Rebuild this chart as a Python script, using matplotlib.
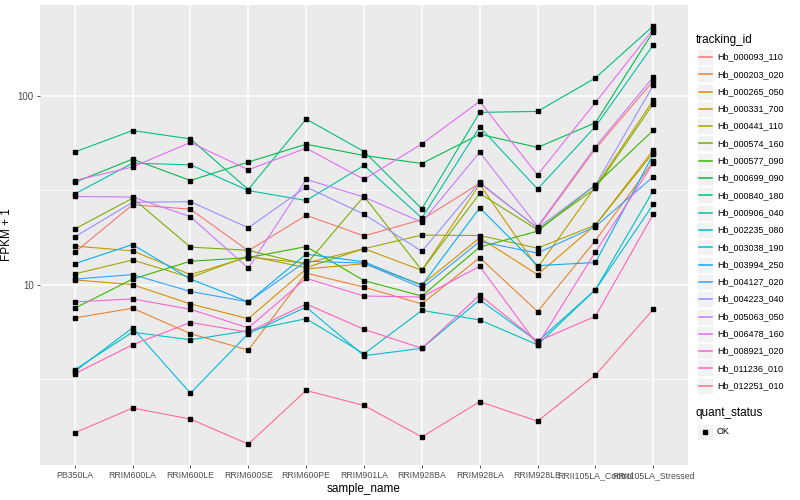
import matplotlib
matplotlib.use('Agg')
import matplotlib.pyplot as plt
from matplotlib.patches import Rectangle
from matplotlib.lines import Line2D
import numpy as np

plt.rcParams['font.family'] = ['Liberation Sans', 'DejaVu Sans']

# samples on the x axis
samples = ['PB350LA', 'RRIM600LA', 'RRIM600LE', 'RRIM600SE', 'RRIM600PE', 'RRIM901LA',
           'RRIM928BA', 'RRIM928LA', 'RRIM928LE', 'RRII105LA_Control', 'RRII105LA_Stressed']

# tracking ids (legend order)
tracking_ids = ['Hb_000093_110', 'Hb_000203_020', 'Hb_000265_050', 'Hb_000331_700',
                'Hb_000441_110', 'Hb_000574_160', 'Hb_000577_090', 'Hb_000699_090',
                'Hb_000840_180', 'Hb_000906_040', 'Hb_002235_080', 'Hb_003038_190',
                'Hb_003994_250', 'Hb_004127_020', 'Hb_004223_040', 'Hb_005063_050',
                'Hb_006478_160', 'Hb_008921_020', 'Hb_011236_010', 'Hb_012251_010']

# ggplot hue palette for 20 levels
colors = ['#F8766D', '#EA8331', '#D89000', '#C09B00', '#A3A500', '#7CAE00', '#39B600',
          '#00BB4E', '#00BF7D', '#00C1A3', '#00BFC4', '#00BAE0', '#00B0F6', '#35A2FF',
          '#9590FF', '#C77CFF', '#E76BF3', '#FA62DB', '#FF62BC', '#FF6C91']

# FPKM + 1 per tracking id, one value per sample
hb_000093_110 = [14.8, 26.5, 25.1, 15.1, 23.3, 18.1, 22.1, 34.4, 20.0, 52.4, 120.0]
hb_000203_020 = [6.66, 7.5, 5.5, 4.5, 11.5, 9.7, 7.9, 13.9, 7.2, 17.1, 44.9]
hb_000265_050 = [10.6, 10.0, 7.9, 6.6, 12.1, 12.9, 10.0, 17.7, 11.3, 20.7, 51.6]
hb_000331_700 = [16.0, 15.1, 11.3, 14.0, 13.0, 15.5, 11.9, 34.0, 12.3, 33.0, 95.0]
hb_000441_110 = [11.4, 13.5, 10.9, 14.2, 12.3, 15.5, 18.3, 18.2, 15.6, 20.7, 50.0]
hb_000574_160 = [19.7, 28.7, 15.8, 15.2, 12.8, 29.4, 11.9, 30.4, 19.5, 32.3, 91.0]
hb_000577_090 = [7.5, 10.7, 13.3, 13.9, 15.9, 10.5, 8.7, 15.8, 19.2, 33.7, 65.7]
hb_000699_090 = [34.8, 46.2, 35.6, 44.6, 55.4, 48.3, 43.8, 62.6, 53.3, 72.0, 218.9]
hb_000840_180 = [50.4, 65.5, 59.1, 31.9, 75.3, 50.7, 25.2, 81.7, 82.7, 124.4, 234.6]
hb_000906_040 = [30.2, 44.0, 43.1, 31.5, 27.9, 42.8, 22.5, 68.4, 32.1, 68.7, 186.2]
hb_002235_080 = [3.54, 5.6, 5.1, 5.7, 6.6, 4.3, 7.3, 6.5, 4.8, 9.4, 31.5]
hb_003038_190 = [3.47, 5.9, 2.66, 5.5, 7.6, 4.2, 4.6, 8.3, 5.0, 9.4, 26.6]
hb_003994_250 = [12.9, 16.3, 10.7, 8.1, 14.5, 13.2, 9.9, 25.5, 12.6, 13.1, 48.9]
hb_004127_020 = [10.7, 11.3, 9.2, 8.1, 13.3, 13.0, 9.6, 16.9, 14.7, 20.3, 37.3]
hb_004223_040 = [17.9, 27.3, 27.5, 20.0, 32.9, 23.6, 15.0, 34.8, 19.9, 33.7, 113.8]
hb_005063_050 = [29.3, 29.1, 22.9, 12.2, 36.1, 29.1, 21.4, 50.3, 20.3, 53.7, 125.8]
hb_006478_160 = [35.6, 42.0, 56.6, 40.6, 52.8, 36.1, 55.6, 93.4, 38.1, 92.2, 225.0]
hb_008921_020 = [8.1, 8.4, 7.4, 5.9, 10.8, 8.7, 8.6, 12.5, 4.8, 14.9, 44.0]
hb_011236_010 = [3.37, 4.8, 6.3, 5.6, 7.9, 5.8, 4.6, 8.8, 5.0, 6.8, 23.6]
hb_012251_010 = [1.64, 2.22, 1.94, 1.43, 2.75, 2.29, 1.56, 2.4, 1.89, 3.32, 7.4]

series = [hb_000093_110, hb_000203_020, hb_000265_050, hb_000331_700, hb_000441_110,
          hb_000574_160, hb_000577_090, hb_000699_090, hb_000840_180, hb_000906_040,
          hb_002235_080, hb_003038_190, hb_003994_250, hb_004127_020, hb_004223_040,
          hb_005063_050, hb_006478_160, hb_008921_020, hb_011236_010, hb_012251_010]

W, H = 800, 500
fig = plt.figure(figsize=(8, 5), dpi=100)
ax = fig.add_axes([40 / W, 35 / H, 648 / W, 460 / H])
ax.set_facecolor('#EBEBEB')

x = np.arange(len(samples))
for vals, c in zip(series, colors):
    ax.plot(x, vals, color=c, lw=0.8, zorder=3)
for vals in series:
    ax.plot(x, vals, 's', color='black', ms=2.2, zorder=4, lw=0)

ax.set_yscale('log')
allv = np.log10(np.concatenate([np.array(s) for s in series]))
lo, hi = allv.min(), allv.max()
pad = (hi - lo) * 0.05
ax.set_ylim(10 ** (lo - pad), 10 ** (hi + pad))
ax.set_xlim(-0.6, len(samples) - 0.4)

ax.set_yticks([10, 100])
ax.set_yticklabels(['10', '100'])
ax.yaxis.set_minor_locator(matplotlib.ticker.NullLocator())
ax.set_xticks(x)
ax.set_xticklabels(samples)

# grid lines
for v in [10, 100]:
    ax.axhline(v, color='white', lw=1.1, zorder=1)
for v in [10 ** 0.5, 10 ** 1.5, 10 ** 2.5]:
    ax.axhline(v, color='white', lw=0.5, zorder=1)
for xi in x:
    ax.axvline(xi, color='white', lw=1.1, zorder=1)

for s in ax.spines.values():
    s.set_visible(False)
ax.tick_params(axis='both', length=2.5, width=0.6, color='#333333', labelcolor='#4D4D4D', pad=2)
ax.tick_params(axis='x', labelsize=6.3)
ax.tick_params(axis='y', labelsize=7)
ax.set_xlabel('sample_name', fontsize=8.5, labelpad=2)
ax.set_ylabel('FPKM + 1', fontsize=8.5, labelpad=3)

# legend drawn by hand, pixel coordinates from top-left
def fx(px):
    return px / W

def fy(py):
    return 1 - py / H

fig.text(fx(696), fy(40), 'tracking_id', fontsize=8.5, va='center', ha='left')
for i, (tid, c) in enumerate(zip(tracking_ids, colors)):
    cy = 57 + i * 17.3
    fig.patches.append(Rectangle((fx(697), fy(cy + 8)), 16 / W, 16 / H,
                                 transform=fig.transFigure, facecolor='#F2F2F2',
                                 edgecolor='white', lw=0.5))
    fig.lines.append(Line2D([fx(698.5), fx(711.5)], [fy(cy), fy(cy)],
                            transform=fig.transFigure, color=c, lw=1.1))
    fig.text(fx(717), fy(cy), tid, fontsize=6.5, va='center', ha='left')

fig.text(fx(696), fy(413), 'quant_status', fontsize=8.5, va='center', ha='left')
fig.patches.append(Rectangle((fx(697), fy(440)), 16 / W, 16 / H,
                             transform=fig.transFigure, facecolor='#F2F2F2',
                             edgecolor='white', lw=0.5))
fig.lines.append(Line2D([fx(705)], [fy(432)], transform=fig.transFigure,
                        marker='s', color='black', ms=2.2, lw=0))
fig.text(fx(717), fy(432), 'OK', fontsize=6.5, va='center', ha='left')

fig.savefig('out.png', dpi=100)
